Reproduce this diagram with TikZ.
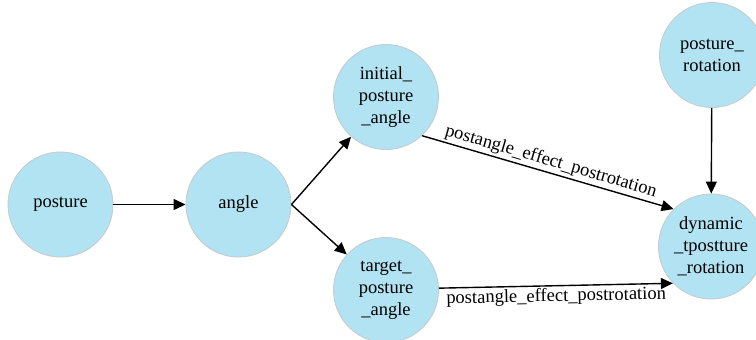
\documentclass[tikz,border=0pt]{standalone}
\usepackage{fontspec}
\setmainfont{Liberation Serif}
\usetikzlibrary{arrows.meta}
\definecolor{nodefill}{HTML}{B2E3F3}
\definecolor{nodeline}{HTML}{C4CCCF}
\begin{document}
\begin{tikzpicture}[x=1pt,y=-1pt,
  vert/.style={circle, fill=nodefill, draw=nodeline, line width=0.9pt,
    minimum size=105pt, inner sep=0pt, align=center,
    font=\fontsize{18.5}{22}\selectfont},
  edge/.style={draw=black, line width=1.4pt,
    -{Triangle[length=12pt,width=11pt]}},
  elabel/.style={font=\fontsize{18.5}{22}\selectfont, sloped, inner sep=2pt}]
\useasboundingbox (0,0) rectangle (756,340);

\node[vert] (posture) at (60.5,204.5) {posture};
\node[vert] (angle) at (238.5,204.5) {angle};
\node[vert] (initial) at (386,97) {initial\_\\posture\\\_angle};
\node[vert] (target) at (386,290) {target\_\\posture\\\_angle};
\node[vert] (prot) at (712,55) {posture\_\\rotation};
\node[vert] (dyn) at (711,246.5) {dynamic\\\_tpostture\\\_rotation};

\draw[edge] (posture) -- (angle);
\draw[edge] (angle.east) -- (initial);
\draw[edge] (angle.east) -- (target);
\draw[edge] (prot) -- (dyn);
\draw[edge] (initial.-47) -- node[elabel, above] {postangle\_effect\_postrotation} (dyn.135);
\draw[edge] (target.2) -- node[elabel, below] {postangle\_effect\_postrotation} (dyn.-136);
\end{tikzpicture}
\end{document}
